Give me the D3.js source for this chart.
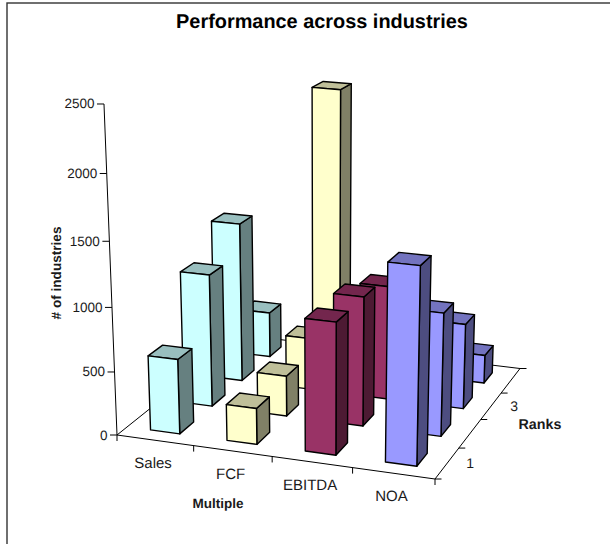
<!DOCTYPE html>
<html>
<head>
<meta charset="utf-8">
<style>
  html, body { margin: 0; padding: 0; background: #fff; }
  text { font-family: "Liberation Sans", Arial, sans-serif; fill: #1a1a1a; text-rendering: geometricPrecision; }
</style>
<script src="https://cdn.jsdelivr.net/npm/d3@7"></script>
</head>
<body>
<svg id="chart" width="610" height="544"></svg>
<script>
const multiples = ["Sales", "FCF", "EBITDA", "NOA"];
const ranks = [1, 2, 3, 4];
const rankTickLabels = ["1", "", "3", ""];
const valueTicks = [0, 500, 1000, 1500, 2000, 2500];

// Industry counts per rank, one list per multiple
const salesValues = [590, 1065, 1306, 383];
const fcfValues = [284, 325, 426, 2304];
const ebitdaValues = [1025, 1029, 928, null];
const noaValues = [1511, 974, 693, 236];

const faceColors = ["#CCFFFF", "#FFFFCC", "#993366", "#9999FF"];

const seriesValues = [salesValues, fcfValues, ebitdaValues, noaValues];

const svg = d3.select("#chart");

// Perspective: floor corners, the vertical vanishing point and the scale along it
const floorCorners = [[117, 435], [435, 479], [520, 368.5], [242, 335]];
const verticalVanish = [324, 5700];
const heightPull = 2.366e-5;

function squareToQuad(q) {
  const [[x0, y0], [x1, y1], [x2, y2], [x3, y3]] = q;
  const dx1 = x1 - x2, dx2 = x3 - x2, dx3 = x0 - x1 + x2 - x3;
  const dy1 = y1 - y2, dy2 = y3 - y2, dy3 = y0 - y1 + y2 - y3;
  const det = dx1 * dy2 - dx2 * dy1;
  const g = (dx3 * dy2 - dx2 * dy3) / det;
  const h = (dx1 * dy3 - dx3 * dy1) / det;
  return [x1 - x0 + g * x1, x3 - x0 + h * x3, x0,
          y1 - y0 + g * y1, y3 - y0 + h * y3, y0, g, h, 1];
}
const H = squareToQuad(floorCorners);

const uScale = d3.scaleLinear().domain([0, multiples.length]).range([0, 1]);
const wScale = d3.scaleLinear().domain([0, ranks.length]).range([0, 1]);
const vScale = d3.scaleLinear().domain([0, 2500]).range([0, -2500 * heightPull]);

// Project (multiple position, rank position, value) to the page
function project(m, r, value) {
  const u = uScale(m), w = wScale(r), s = vScale(value);
  const X = H[0] * u + H[1] * w + H[2] + s * verticalVanish[0];
  const Y = H[3] * u + H[4] * w + H[5] + s * verticalVanish[1];
  const Z = H[6] * u + H[7] * w + H[8] + s;
  return [X / Z, Y / Z];
}

const line = d3.line();
const BAR_W = 0.385, BAR_D = 0.42;

// Chart frame runs off the right and bottom of the page
svg.append("rect").attr("x", 7).attr("y", 3).attr("width", 700).attr("height", 700)
  .attr("fill", "#fff").attr("stroke", "#333").attr("stroke-width", 1.4);

svg.append("text").attr("x", 322).attr("y", 28).attr("text-anchor", "middle")
  .style("font-size", "19.9px").style("font-weight", "bold").style("fill", "#000")
  .text("Performance across industries");

// Axis lines along the floor and up the value axis
const axes = svg.append("g").attr("fill", "none").attr("stroke", "#000").attr("stroke-width", 1);
function seg(a, b) { axes.append("path").attr("d", line([a, b])); }
seg(project(0, 0, 0), project(4, 0, 0));
seg(project(4, 0, 0), project(4, 4, 0));
seg(project(0, 0, 0), project(0, 4, 0));
seg(project(0, 4, 0), project(4, 4, 0));
seg(project(0, 0, 0), project(0, 0, 2500));

valueTicks.forEach(v => {
  const p = project(0, 0, v);
  seg([p[0] - 7, p[1]], p);
  svg.append("text").attr("x", p[0] - 9.5).attr("y", p[1] + 4.5)
    .attr("text-anchor", "end").style("font-size", "13.5px").text(v);
});

d3.range(0, 5).forEach(i => {
  const p = project(i, 0, 0);
  seg(p, [p[0], p[1] + 6]);
  const q = project(4, i, 0);
  seg(q, [q[0] + 6.5, q[1]]);
});

multiples.forEach((name, i) => {
  const p = project(i + 0.5, 0, 0);
  svg.append("text").attr("x", p[0] - 2).attr("y", p[1] + 28)
    .attr("text-anchor", "middle").style("font-size", "15px").text(name);
});
rankTickLabels.forEach((name, i) => {
  if (!name) return;
  const p = project(4, i + 0.5, 0);
  svg.append("text").attr("x", p[0] + 23).attr("y", p[1] + 5)
    .attr("text-anchor", "middle").style("font-size", "14px").text(name);
});

svg.append("text").attr("x", 218).attr("y", 508).attr("text-anchor", "middle")
  .style("font-size", "13.5px").style("font-weight", "bold").text("Multiple");
svg.append("text").attr("x", 540).attr("y", 429).attr("text-anchor", "middle")
  .style("font-size", "14.3px").style("font-weight", "bold").text("Ranks");
svg.append("text").attr("transform", "translate(61,273) rotate(-90)").attr("text-anchor", "middle")
  .style("font-size", "13.6px").style("font-weight", "bold").text("# of industries");

// Bars, back row first and left to right so nearer bars overlap farther ones
const bars = svg.append("g").attr("stroke", "#000").attr("stroke-width", 1.4).attr("stroke-linejoin", "round");
d3.range(ranks.length - 1, -1, -1).forEach(r => {
  multiples.forEach((_, m) => {
    const v = seriesValues[m][r];
    if (v == null) return;
    const x0 = m + 0.5 - BAR_W / 2, x1 = m + 0.5 + BAR_W / 2;
    const z0 = r + 0.5 - BAR_D / 2, z1 = r + 0.5 + BAR_D / 2;
    const base = d3.rgb(faceColors[m]);
    const shade = k => d3.rgb(base.r * k, base.g * k, base.b * k).formatHex();
    const g = bars.append("g");
    const face = (pts, fill) => g.append("path").attr("d", line(pts) + "Z").attr("fill", fill);
    face([project(x1, z0, 0), project(x1, z1, 0), project(x1, z1, v), project(x1, z0, v)], shade(0.5));
    face([project(x0, z0, v), project(x1, z0, v), project(x1, z1, v), project(x0, z1, v)], shade(0.75));
    face([project(x0, z0, 0), project(x1, z0, 0), project(x1, z0, v), project(x0, z0, v)], faceColors[m]);
  });
});
</script>
</body>
</html>
